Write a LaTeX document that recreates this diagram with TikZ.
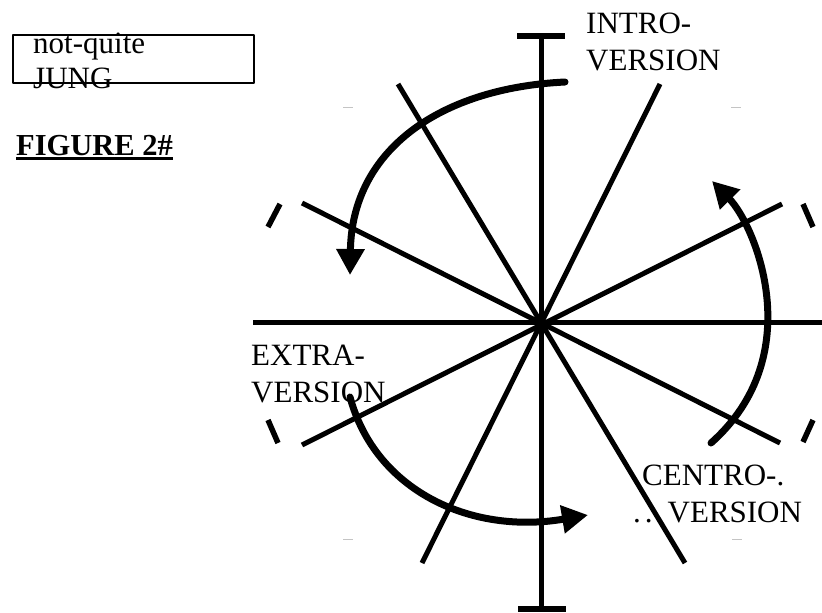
\documentclass[tikz,border=0pt]{standalone}
\usepackage{fontspec}
\setmainfont{Liberation Serif}
\usetikzlibrary{arrows.meta}
\definecolor{faintgray}{HTML}{C4C4C4}
\tikzset{
  every picture/.style={x=1pt, y=-1pt, line join=round},
  spoke/.style={line width=5pt},
  endbar/.style={line width=5.5pt},
  flow/.style={line width=7pt, line cap=round, -{Triangle[length=26pt,width=27pt]}},
  faint/.style={faintgray, line width=1pt},
  lbl/.style={inner sep=0pt, anchor=base west, align=left, font=\fontsize{31}{37}\selectfont},
}
\begin{document}
\begin{tikzpicture}
\useasboundingbox (0,0) rectangle (822,613);
% hub and spoke ends
\coordinate (hub) at (540,322);
\coordinate (north) at (541,33);   \coordinate (south) at (541,610);
\coordinate (west) at (253,322);   \coordinate (east) at (822,322);
\coordinate (nwA) at (398,84);     \coordinate (seA) at (685,563);
\coordinate (neA) at (660,84);     \coordinate (swA) at (422,563);
\coordinate (nwB) at (302,203);    \coordinate (seB) at (780,443);
\coordinate (swB) at (302,445);    \coordinate (neB) at (782,204);
\foreach \p/\q in {north/south, west/east, nwA/seA, neA/swA, nwB/seB, swB/neB}
  \draw[spoke] (\p) -- (\q);
% end bars
\draw[endbar] (517,36) -- (565,36);
\draw[endbar] (518,609) -- (566,609);
\draw[endbar] (268,227) -- (280,204);
\draw[endbar] (268,420) -- (278,443);
\draw[endbar] (803,204) -- (813,227);
\draw[endbar] (803,442) -- (813,420);
\foreach \x/\y in {343/107, 731/107, 343/539, 732/539}
  \draw[faint] (\x,\y) -- ++(10,0);
% turning arrows
\draw[flow] (565,82) .. controls (440,88) and (352,150) .. (350,275);
\draw[flow] (711,443) .. controls (810,355) and (755,225) .. (712,181);
\draw[flow] (350,397) .. controls (375,490) and (470,535) .. (588,515);
% labels (base anchor sits on the last line)
\node[lbl] (intro) at (586,70) {INTRO-\\VERSION};
\node[lbl] (extra) at (251,402) {EXTRA-\\VERSION};
\node[lbl] (centroA) at (642,485) {CENTRO-.};
\node[lbl] (centroB) at (633,522) {.\kern4pt.\kern15pt VERSION};
\node[draw, line width=1.5pt, minimum width=241pt, minimum height=48pt, inner sep=0pt] (jungbox) at (133.5,59) {};
\node[lbl, font=\fontsize{31}{35}\selectfont] (jung) at (33,88) {not-quite\\JUNG};
\node[lbl, font=\bfseries\fontsize{30.5}{37}\selectfont] (fig) at (16,155) {FIGURE 2\#};
\draw[line width=2.5pt] ([yshift=-3.5pt]fig.base west) -- ([yshift=-3.5pt]fig.base east);
\end{tikzpicture}
\end{document}
